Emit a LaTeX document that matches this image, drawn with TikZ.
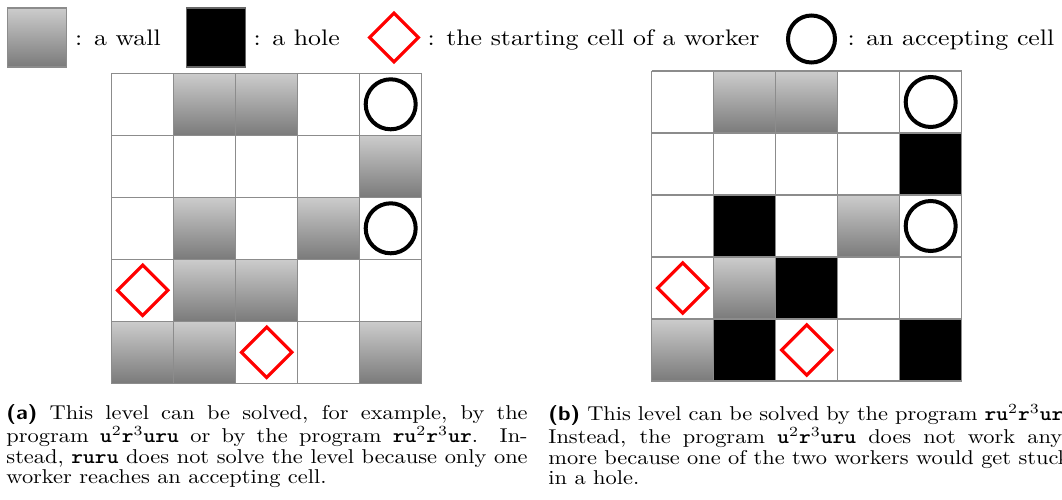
\documentclass[tikz,border=0pt]{standalone}
\usetikzlibrary{shapes.geometric}
\newcommand\pg[1]{\texttt{\bfseries #1}}
% a caption block: stacked lines, the full ones justified to the block width
\newcommand\capblock[1]{\vbox{\hsize=232.7pt\baselineskip=10.25pt #1}}
\newcommand\fullline[1]{\hbox to\hsize{#1}}
\newcommand\lastline[1]{\hbox{#1}}
\begin{document}
\begin{tikzpicture}[x=0.6pt, y=-0.6pt,
  cellline/.style={draw=black!45, line width=0.8pt},
  wallcell/.style={top color=black!20, bottom color=black!52, draw=black!45, line width=0.8pt},
  holecell/.style={fill=black, draw=black!45, line width=0.8pt},
  startmark/.style={diamond, draw=red, line width=1.9pt, inner sep=0pt, minimum width=31pt, minimum height=31pt},
  accmark/.style={circle, draw=black, line width=2.4pt, inner sep=0pt, minimum size=30pt},
  legtext/.style={anchor=base west, inner sep=0pt, xscale=1.55, yscale=1.35, transform shape,
    font=\fontsize{10}{12}\selectfont},
  captext/.style={anchor=north west, inner sep=0pt,
    xscale=1.344, yscale=1.2, transform shape, font=\fontsize{10}{10.25}\selectfont}
]
\path[use as bounding box] (0,0) rectangle (1062,500);
\clip (0,0) rectangle (1062,500);
\fill[white] (0,0) rectangle (1062,500);

% legend
\node[wallcell, minimum size=35.4pt, inner sep=0pt] (legwall) at (37,37.5) {};
\node[holecell, draw=black!60, minimum size=35.4pt, inner sep=0pt] (leghole) at (216,37.5) {};
\node[startmark, minimum width=30pt, minimum height=30pt] (legstart) at (394,37.5) {};
\node[accmark, minimum size=28.2pt] (legacc) at (811.5,39) {};
\begin{scope}[shift={(74.7,45.5)}]
  \node[legtext] (twall) at (0,0) {:\hspace{4.5pt}a wall};
\end{scope}
\begin{scope}[shift={(253,45.5)}]
  \node[legtext] (thole) at (0,0) {:\hspace{4.5pt}a hole};
\end{scope}
\begin{scope}[shift={(427,45.5)}]
  \node[legtext] (tstart) at (0,0) {:\hspace{4.5pt}the starting cell of a worker};
\end{scope}
\begin{scope}[shift={(847,45.5)}]
  \node[legtext] (tacc) at (0,0) {:\hspace{4.5pt}an accepting cell};
\end{scope}

% level (a)
\begin{scope}[shift={(111.7,73.3)}]
  \foreach \c/\r in {1/0,2/0,4/1,1/2,3/2,1/3,2/3,0/4,1/4,4/4}
    \path[wallcell] (\c*62,\r*62) rectangle ++(62,62);
  \foreach \k in {0,...,5} {
    \draw[cellline] (\k*62,0) -- (\k*62,310);
    \draw[cellline] (0,\k*62) -- (310,\k*62);
  }
  \foreach \c/\r in {4/0,4/2}
    \node[accmark] (a-acc-\c-\r) at (\c*62+31,\r*62+31) {};
  \foreach \c/\r in {0/3,2/4}
    \node[startmark] (a-start-\c-\r) at (\c*62+31,\r*62+31) {};
\end{scope}

% level (b)
\begin{scope}[shift={(651.7,71)}]
  \foreach \c/\r in {1/0,2/0,3/2,1/3,0/4}
    \path[wallcell] (\c*62,\r*62) rectangle ++(62,62);
  \foreach \c/\r in {4/1,1/2,2/3,1/4,4/4}
    \path[holecell] (\c*62,\r*62) rectangle ++(62,62);
  \foreach \k in {0,...,5} {
    \draw[cellline] (\k*62,0) -- (\k*62,310);
    \draw[cellline] (0,\k*62) -- (310,\k*62);
  }
  \foreach \c/\r in {4/0,4/2}
    \node[accmark] (b-acc-\c-\r) at (\c*62+31,\r*62+31) {};
  \foreach \c/\r in {0/3,2/4}
    \node[startmark] (b-start-\c-\r) at (\c*62+31,\r*62+31) {};
\end{scope}

% captions
\begin{scope}[shift={(6,404)}]
\node[captext] (capa) at (0,0) {\capblock{%
\fullline{{\sffamily\bfseries (a)} This level can be solved, for example, by the}
\fullline{program \pg{u}$^2$\pg{r}$^3$\pg{uru} or by the program \pg{ru}$^2$\pg{r}$^3$\pg{ur}. In-}
\fullline{stead, \pg{ruru} does not solve the level because only one}
\lastline{worker reaches an accepting cell.}}};
\end{scope}
\begin{scope}[shift={(548,404)}]
\node[captext] (capb) at (0,0) {\capblock{%
\fullline{{\sffamily\bfseries (b)} This level can be solved by the program \pg{ru}$^2$\pg{r}$^3$\pg{ur}.}
\fullline{Instead, the program \pg{u}$^2$\pg{r}$^3$\pg{uru} does not work any-}
\fullline{more because one of the two workers would get stuck}
\lastline{in a hole.}}};
\end{scope}
\end{tikzpicture}
\end{document}
